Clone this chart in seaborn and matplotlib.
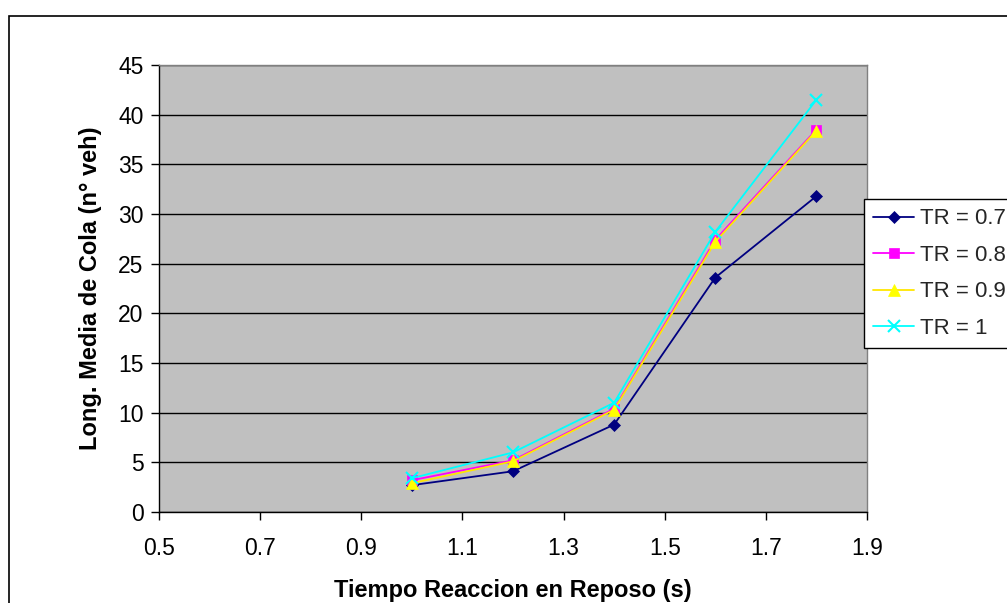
import matplotlib
matplotlib.use("Agg")
import matplotlib.pyplot as plt
import seaborn as sns
import pandas as pd
from matplotlib.patches import Rectangle

# Data
tiempo = [1.0, 1.2, 1.4, 1.6, 1.8]
tr_07 = [2.7, 4.1, 8.8, 23.6, 31.8]
tr_08 = [3.2, 5.2, 10.4, 27.4, 38.5]
tr_09 = [2.9, 5.1, 10.3, 27.2, 38.4]
tr_10 = [3.4, 6.0, 11.0, 28.2, 41.5]
series_labels = ["TR = 0.7", "TR = 0.8", "TR = 0.9", "TR = 1"]
x_ticks = [0.5, 0.7, 0.9, 1.1, 1.3, 1.5, 1.7, 1.9]
y_ticks = [0, 5, 10, 15, 20, 25, 30, 35, 40, 45]

sns.set_theme(style="white")
plt.rcParams['font.family'] = ['Liberation Sans', 'DejaVu Sans']

frames = []
for lab, vals in zip(series_labels, [tr_07, tr_08, tr_09, tr_10]):
    frames.append(pd.DataFrame({"t": tiempo, "v": vals, "serie": lab}))
df = pd.concat(frames, ignore_index=True)

line_colors = {"TR = 0.7": "#000080", "TR = 0.8": "#FF00FF", "TR = 0.9": "#FFE600", "TR = 1": "#00FFFF"}
marker_face = {"TR = 0.7": "#000080", "TR = 0.8": "#FF00FF", "TR = 0.9": "#FFFF00", "TR = 1": "#00FFFF"}
markers = {"TR = 0.7": "D", "TR = 0.8": "s", "TR = 0.9": "^", "TR = 1": "x"}
msizes = {"TR = 0.7": 6, "TR = 0.8": 7, "TR = 0.9": 9, "TR = 1": 9}

fig = plt.figure(figsize=(10.07, 6.03), dpi=100)
fig.patch.set_facecolor("white")
ax = fig.add_axes([159/1007, 1-512/603, (867-159)/1007, (512-65)/603])
ax.set_facecolor("#C0C0C0")

for lab in series_labels:
    sub = df[df["serie"] == lab]
    sns.lineplot(data=sub, x="t", y="v", ax=ax, color=line_colors[lab], lw=1.3,
                 marker=markers[lab], markersize=msizes[lab],
                 markerfacecolor=marker_face[lab], markeredgecolor=marker_face[lab],
                 markeredgewidth=1.5 if lab == "TR = 1" else 0.5,
                 label=lab, legend=False)

ax.set_xlim(0.5, 1.9)
ax.set_ylim(0, 45)
ax.set_xticks(x_ticks)
ax.set_xticklabels([f"{v:.1f}" for v in x_ticks])
ax.set_yticks(y_ticks)
ax.set_yticklabels([str(v) for v in y_ticks])
ax.yaxis.grid(True, color="black", lw=1)
ax.xaxis.grid(False)
ax.set_axisbelow(True)
ax.tick_params(axis="both", direction="out", length=6, width=1, color="black",
               labelsize=16.5, labelcolor="black", bottom=True, left=True)
ax.tick_params(axis="x", pad=12)
ax.tick_params(axis="y", pad=5)
for side in ["left", "bottom"]:
    ax.spines[side].set_color("black")
    ax.spines[side].set_linewidth(1)
for side in ["top", "right"]:
    ax.spines[side].set_color("#808080")
    ax.spines[side].set_linewidth(1)

ax.set_xlabel("Tiempo Reaccion en Reposo (s)", fontsize=17, fontweight="bold", labelpad=14, color="black")
ax.set_ylabel("Long. Media de Cola (n° veh)", fontsize=17, fontweight="bold", labelpad=12, color="black")

handles, labels = ax.get_legend_handles_labels()
leg = fig.legend(handles, labels, loc="upper left", bbox_to_anchor=(864/1007, 1-199/603),
                 frameon=True, fancybox=False, fontsize=16, labelspacing=0.7,
                 handlelength=1.85, handletextpad=0.25, borderpad=0.42, borderaxespad=0)
leg.get_frame().set_edgecolor("black")
leg.get_frame().set_linewidth(1)
leg.get_frame().set_facecolor("white")
leg.get_frame().set_alpha(1)

fig.add_artist(Rectangle((8.5/1007, -0.1), 1.2, (1-15.5/603)+0.1, transform=fig.transFigure,
                         fill=False, ec="black", lw=1.2, zorder=-1))

fig.savefig("out.png", dpi=100, facecolor="white")
